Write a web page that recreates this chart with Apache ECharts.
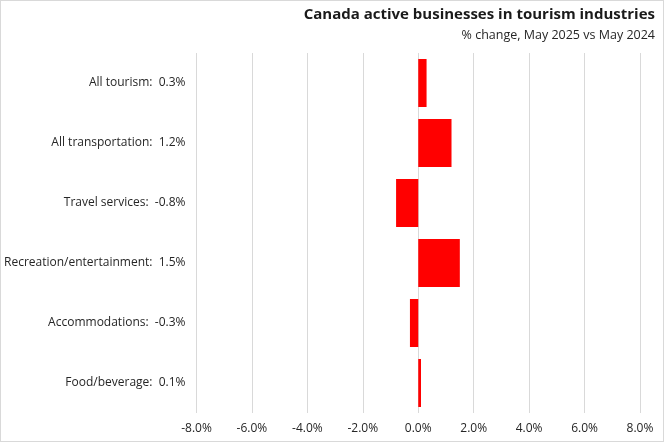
<!DOCTYPE html>
<html>
<head>
<meta charset="utf-8">
<script src="https://cdn.jsdelivr.net/npm/echarts@6/dist/echarts.min.js"></script>
<style>
html,body{margin:0;padding:0;background:#fff;}
#c{width:662px;height:440px;border:1px solid #d9d9d9;}
</style>
</head>
<body>
<div id="c"></div>
<script>
const categories = ["All tourism", "All transportation", "Travel services", "Recreation/entertainment", "Accommodations", "Food/beverage"];
const values = [0.3, 1.2, -0.8, 1.5, -0.3, 0.1];
const xTicks = [-8, -6, -4, -2, 0, 2, 4, 6, 8];

const font = "'Open Sans', sans-serif";
const chart = echarts.init(document.getElementById('c'));
chart.setOption({
  animation: false,
  title: [
    {text: "Canada active businesses in tourism industries", right: 3, top: 1,
     textStyle: {fontFamily: font, fontSize: 15, fontWeight: 'bold', color: '#1a1a1a'}},
    {text: "% change, May 2025 vs May 2024", right: 3, top: 23,
     textStyle: {fontFamily: font, fontSize: 12.5, fontWeight: 'normal', color: '#262626'}}
  ],
  grid: {left: 194, right: 23, top: 52, bottom: 28, containLabel: false},
  xAxis: {
    type: 'value', min: xTicks[0], max: xTicks[xTicks.length - 1], interval: 2,
    axisLine: {show: false}, axisTick: {show: false},
    splitLine: {show: true, lineStyle: {color: '#d9d9d9', width: 1}},
    axisLabel: {formatter: v => v.toFixed(1) + '%', margin: 10, fontFamily: font, fontSize: 12, color: '#262626'}
  },
  yAxis: {
    type: 'category', data: categories, inverse: true,
    axisLine: {show: false}, axisTick: {show: false},
    axisLabel: {
      margin: 11, fontFamily: font, fontSize: 12, color: '#262626',
      formatter: (v, i) => v + ':  ' + values[i].toFixed(1) + '%'
    }
  },
  series: [{
    type: 'bar', data: values, barCategoryGap: '20%',
    itemStyle: {color: '#ff0000'}
  }]
});
</script>
</body>
</html>
